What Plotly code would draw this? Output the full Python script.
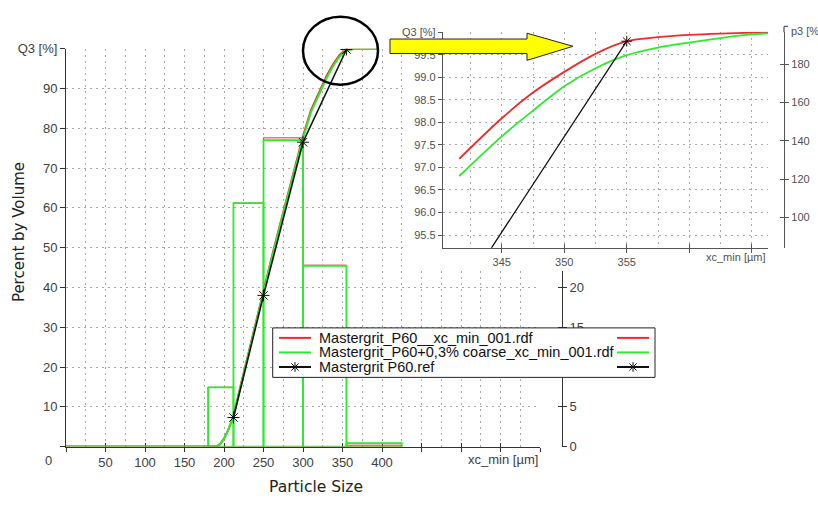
import plotly.graph_objects as go

W, H = 818, 506


def px(x):
    return x / W


def py(y):
    return 1 - y / H


# ---------------- data ----------------
size_um = [0, 190, 195, 200, 205, 212, 220, 230, 240, 250, 260, 270, 280, 290, 300,
           310, 320, 330, 337.5, 341.6, 345, 347.5, 350, 352.5, 355, 357.5,
           360, 362.5, 365, 367.5, 395]
q3_p60 = [0, 0, 0.6, 2.0, 4.0, 7.6, 14.5, 22.8, 31.1, 39.3, 47.3, 55.1, 62.8, 70.5, 78.0,
          84.5, 89.0, 93.2, 95.9, 97.19, 98.09, 98.66, 99.12, 99.52, 99.80, 99.89,
          99.94, 99.97, 99.99, 100.0, 100.0]
q3_coarse = [0, 0, 0.6, 2.0, 4.0, 7.5, 14.2, 22.5, 30.8, 39.0, 47.0, 54.8, 62.5, 70.1, 77.5,
             84.0, 88.5, 92.7, 95.4, 96.81, 97.69, 98.26, 98.80, 99.20, 99.49, 99.66,
             99.77, 99.87, 99.95, 99.99, 100.0]
ref_size = [212, 250, 300, 355]
ref_q3 = [7.3, 38.0, 76.5, 99.8]

bin_edges = [180, 212, 250, 300, 355, 425]
p3_p60 = [7.45, 30.6, 38.8, 22.8, 0.17]
p3_coarse = [7.45, 30.6, 38.5, 22.7, 0.43]

series_names = ["Mastergrit_P60__xc_min_001.rdf",
                "Mastergrit_P60+0,3% coarse_xc_min_001.rdf",
                "Mastergrit P60.ref"]

main_x_ticks = [0, 50, 100, 150, 200, 250, 300, 350, 400, 450, 500, 550, 600]
main_x_labels = ["", "50", "100", "150", "200", "250", "300", "350", "400", "", "", "", ""]
main_y_ticks = [0, 10, 20, 30, 40, 50, 60, 70, 80, 90, 100]
main_y_labels = ["", "10", "20", "30", "40", "50", "60", "70", "80", "90", "Q3 [%]"]
main_p3_ticks = [0, 5, 10, 15, 20, 25, 30, 35, 40, 45, 50]

inset_x_ticks = [345, 350, 355, 360, 365]
inset_x_labels = ["345", "350", "355", "", ""]
inset_y_ticks = [95.5, 96.0, 96.5, 97.0, 97.5, 98.0, 98.5, 99.0, 99.5, 100.0]
inset_y_labels = ["95.5", "96.0", "96.5", "97.0", "97.5", "98.0", "98.5", "99.0", "99.5", "Q3 [%]"]
inset_p3_ticks = [100, 120, 140, 160, 180]

# ---------------- styles ----------------
RED = "#f02a2a"
GREEN = "#2eea2e"
BLACK = "#111111"
GRID = "#a9a9a9"
DOTS = "2px,4px"
AXC = "#333333"
TICKF = "Liberation Sans, Arial, sans-serif"
main_tick_font = dict(family=TICKF, size=13, color="#404040")
inset_tick_font = dict(family=TICKF, size=11, color="#505050")

bar_centers = [(a + b) / 2 for a, b in zip(bin_edges[:-1], bin_edges[1:])]
bar_widths = [b - a for a, b in zip(bin_edges[:-1], bin_edges[1:])]

inset_lo = 341.5
ins_x = [x for x in size_um if x >= inset_lo]
ins_red = [v for x, v in zip(size_um, q3_p60) if x >= inset_lo]
ins_green = [v for x, v in zip(size_um, q3_coarse) if x >= inset_lo]


def placeholder(xa, ya):
    return go.Scatter(x=[None], y=[None], xaxis=xa, yaxis=ya, mode="markers",
                      showlegend=False, hoverinfo="skip")


fig = go.Figure()

# main subplot anchor
fig.add_trace(placeholder("x", "y"))

# histogram (p3) bars, outline only
fig.add_trace(go.Bar(x=bar_centers, y=p3_p60, width=bar_widths, xaxis="x", yaxis="y2",
                     marker=dict(color="rgba(0,0,0,0)", line=dict(color=RED, width=1.0)),
                     name=series_names[0], showlegend=False, hoverinfo="skip"))
fig.add_trace(go.Bar(x=bar_centers, y=p3_coarse, width=bar_widths, xaxis="x", yaxis="y2",
                     marker=dict(color="rgba(0,0,0,0)", line=dict(color=GREEN, width=1.8)),
                     name=series_names[1], showlegend=False, hoverinfo="skip"))
fig.add_trace(placeholder("x", "y6"))

# cumulative Q3 curves (main chart)
fig.add_trace(go.Scatter(x=size_um, y=q3_p60, xaxis="x4", yaxis="y", mode="lines",
                         line=dict(color=RED, width=2), name=series_names[0], showlegend=False))
fig.add_trace(go.Scatter(x=size_um, y=q3_coarse, xaxis="x4", yaxis="y", mode="lines",
                         line=dict(color=GREEN, width=2), name=series_names[1], showlegend=False))
fig.add_trace(go.Scatter(x=ref_size, y=ref_q3, xaxis="x4", yaxis="y", mode="lines+markers",
                         line=dict(color=BLACK, width=1.6),
                         marker=dict(symbol="asterisk-open", size=10, color=BLACK,
                                     line=dict(color=BLACK, width=1)),
                         name=series_names[2], showlegend=False))

# white backing panel for the inset
fig.add_trace(placeholder("x2", "y3"))

# inset curves
fig.add_trace(go.Scatter(x=ins_x, y=ins_red, xaxis="x3", yaxis="y4", mode="lines",
                         line=dict(color=RED, width=1.8, shape="spline", smoothing=0.8),
                         showlegend=False))
fig.add_trace(go.Scatter(x=ins_x, y=ins_green, xaxis="x3", yaxis="y4", mode="lines",
                         line=dict(color=GREEN, width=1.8, shape="spline", smoothing=0.8),
                         showlegend=False))
fig.add_trace(go.Scatter(x=ref_size, y=ref_q3, xaxis="x3", yaxis="y4", mode="lines+markers",
                         line=dict(color=BLACK, width=1.3),
                         marker=dict(symbol="asterisk-open", size=9, color=BLACK,
                                     line=dict(color=BLACK, width=1)),
                         showlegend=False))
for xa, ya in [("x3", "y5"), ("x3", "y7"), ("x5", "y4")]:
    fig.add_trace(placeholder(xa, ya))

grid_common = dict(showgrid=True, gridcolor=GRID, griddash=DOTS, gridwidth=1)
minor_grid = dict(ticks="", showgrid=True, gridcolor=GRID, griddash=DOTS, gridwidth=1)

layout = dict(
    width=W, height=H, margin=dict(l=0, r=0, t=0, b=0),
    paper_bgcolor="white", plot_bgcolor="white",
    showlegend=False, barmode="overlay",
    # ---------- main chart ----------
    xaxis=dict(domain=[px(66), px(540)], range=[0, 600], anchor="y",
               tickmode="array", tickvals=main_x_ticks, ticktext=main_x_labels,
               ticks="outside", ticklen=4, tickcolor=AXC, tickfont=main_tick_font,
               showline=True, linecolor=AXC, linewidth=1, zeroline=False,
               minor=dict(dtick=25, tick0=0, **minor_grid),
               layer="below traces", **grid_common),
    xaxis4=dict(overlaying="x", anchor="y", range=[0, 600], tickmode="array",
                tickvals=main_x_ticks, ticks="inside", ticklen=4, tickcolor=AXC,
                showticklabels=False, showgrid=False, showline=False, zeroline=False,
                layer="below traces"),
    yaxis=dict(domain=[py(453), py(43)], range=[0, 100], anchor="x",
               tickmode="array", tickvals=main_y_ticks, ticktext=main_y_labels,
               ticks="outside", ticklen=5, tickcolor=AXC, tickfont=main_tick_font,
               showline=True, linecolor=AXC, linewidth=1, zeroline=False,
               layer="below traces", **grid_common),
    yaxis2=dict(overlaying="y", anchor="free", position=px(562), side="right",
                range=[0, 50], tickmode="array", tickvals=main_p3_ticks,
                ticks="outside", ticklen=4, tickcolor=AXC, tickfont=main_tick_font,
                showline=True, linecolor=AXC, linewidth=1, showgrid=False, zeroline=False),
    yaxis6=dict(overlaying="y", anchor="free", position=px(562), side="right",
                range=[0, 50], tickmode="array", tickvals=main_p3_ticks,
                ticks="inside", ticklen=4, tickcolor=AXC, showticklabels=False,
                showline=False, showgrid=False, zeroline=False),
    # ---------- white backing panel of the inset ----------
    xaxis2=dict(domain=[px(403), 1.0], range=[0, 1], anchor="y3", visible=False),
    yaxis3=dict(domain=[py(272), 1.0], range=[0, 1], anchor="x2", visible=False),
    # ---------- inset ----------
    xaxis3=dict(domain=[px(443), px(768)], range=[340.3, 366.3], anchor="y4",
                tickmode="array", tickvals=inset_x_ticks, ticktext=inset_x_labels,
                ticks="outside", ticklen=4, tickcolor="#555", tickfont=inset_tick_font,
                showline=True, linecolor="#555", linewidth=1.3, zeroline=False,
                minor=dict(dtick=2.5, tick0=0, **minor_grid),
                **grid_common),
    xaxis5=dict(overlaying="x3", anchor="y4", range=[340.3, 366.3], tickmode="array",
                tickvals=inset_x_ticks, ticks="inside", ticklen=4, tickcolor="#555",
                showticklabels=False, showgrid=False, showline=False, zeroline=False),
    yaxis4=dict(domain=[py(248), py(25.5)], range=[95.22, 100.01], anchor="x3",
                tickmode="array", tickvals=inset_y_ticks, ticktext=inset_y_labels,
                ticks="outside", ticklen=4, tickcolor="#555", tickfont=inset_tick_font,
                showline=True, linecolor="#555", linewidth=1.3, zeroline=False,
                **grid_common),
    yaxis5=dict(overlaying="y4", anchor="free", position=px(784), side="right",
                range=[84.2, 197], tickmode="array", tickvals=inset_p3_ticks,
                ticks="outside", ticklen=4, tickcolor="#555", tickfont=inset_tick_font,
                showline=True, linecolor="#555", linewidth=1.3, showgrid=False,
                zeroline=False),
    yaxis7=dict(overlaying="y4", anchor="free", position=px(784), side="right",
                range=[84.2, 197], tickmode="array", tickvals=inset_p3_ticks,
                ticks="inside", ticklen=4, tickcolor="#555", showticklabels=False,
                showline=False, showgrid=False, zeroline=False),
)
fig.update_layout(**layout)

# ---------------- decorations ----------------
shapes = []
# legend box
shapes.append(dict(type="rect", xref="paper", yref="paper", x0=px(272.7), x1=px(655),
                   y0=py(381.7), y1=py(330.7), fillcolor="white",
                   line=dict(color="#222", width=1), layer="above"))
leg_rows = [341, 356, 371]
leg_cols = [RED, GREEN, BLACK]
for yrow, col in zip(leg_rows, leg_cols):
    for xa, xb in [(279, 311), (617, 649)]:
        shapes.append(dict(type="line", xref="paper", yref="paper", x0=px(xa), x1=px(xb),
                           y0=py(yrow), y1=py(yrow), line=dict(color=col, width=2),
                           layer="above"))
for cx in [295, 633]:
    cy, r, d = leg_rows[2], 5, 3.6
    path = (f"M{px(cx)},{py(cy - r)} L{px(cx)},{py(cy + r)} "
            f"M{px(cx - d)},{py(cy - d)} L{px(cx + d)},{py(cy + d)} "
            f"M{px(cx - d)},{py(cy + d)} L{px(cx + d)},{py(cy - d)}")
    shapes.append(dict(type="path", xref="paper", yref="paper", path=path,
                       line=dict(color=BLACK, width=1), layer="above"))
# top extension of the inset p3 axis
shapes.append(dict(type="line", xref="paper", yref="paper", x0=px(784), x1=px(784),
                   y0=py(26), y1=py(20), line=dict(color="#555", width=1.3), layer="above"))
shapes.append(dict(type="line", xref="paper", yref="paper", x0=px(784), x1=px(788),
                   y0=py(20), y1=py(20), line=dict(color="#555", width=1.3), layer="above"))
# circle highlighting the top of the curves
shapes.append(dict(type="circle", xref="paper", yref="paper", x0=px(303), x1=px(378),
                   y0=py(80), y1=py(10), line=dict(color="black", width=2.5),
                   layer="above"))
# yellow arrow
arrow_pts = [(390, 33), (527, 33), (527, 27), (573, 40.5), (527, 55), (527, 48), (390, 48)]
apath = "M" + " L".join(f"{px(a)},{py(b)}" for a, b in arrow_pts) + " Z"
shapes.append(dict(type="path", xref="paper", yref="paper", path=apath,
                   fillcolor="#ffff00", line=dict(color="#222", width=1), layer="above"))
fig.update_layout(shapes=shapes)

ann = []
for yrow, name in zip(leg_rows, series_names):
    ann.append(dict(x=px(317), y=py(yrow), xref="paper", yref="paper", text=name,
                    showarrow=False, xanchor="left", yanchor="middle",
                    font=dict(family=TICKF, size=14.5, color="#111")))
ann.append(dict(x=px(48), y=py(467), xref="paper", yref="paper", text="0", showarrow=False,
                xanchor="center", yanchor="middle", font=main_tick_font))
ann.append(dict(x=px(540), y=py(466), xref="paper", yref="paper", text="xc_min [µm]",
                showarrow=False, xanchor="right", yanchor="middle", font=main_tick_font))
ann.append(dict(x=px(768), y=py(258), xref="paper", yref="paper", text="xc_min [µm]",
                showarrow=False, xanchor="right", yanchor="middle", font=inset_tick_font))
ann.append(dict(x=px(789), y=py(25), xref="paper", yref="paper", text="p3 [%]",
                showarrow=False, xanchor="left", yanchor="middle", font=inset_tick_font))
ann.append(dict(x=px(316), y=py(495), xref="paper", yref="paper", text="Particle Size",
                showarrow=False, xanchor="center", yanchor="middle",
                font=dict(family="DejaVu Sans, Verdana, sans-serif", size=15.5, color="#222")))
ann.append(dict(x=px(19), y=py(232), xref="paper", yref="paper", text="Percent by Volume",
                showarrow=False, xanchor="center", yanchor="middle", textangle=-90,
                font=dict(family="DejaVu Sans, Verdana, sans-serif", size=15, color="#222")))
fig.update_layout(annotations=ann)

fig.write_html("out.html", config={"displayModeBar": False},
               post_script="document.body.style.margin='0px';")
